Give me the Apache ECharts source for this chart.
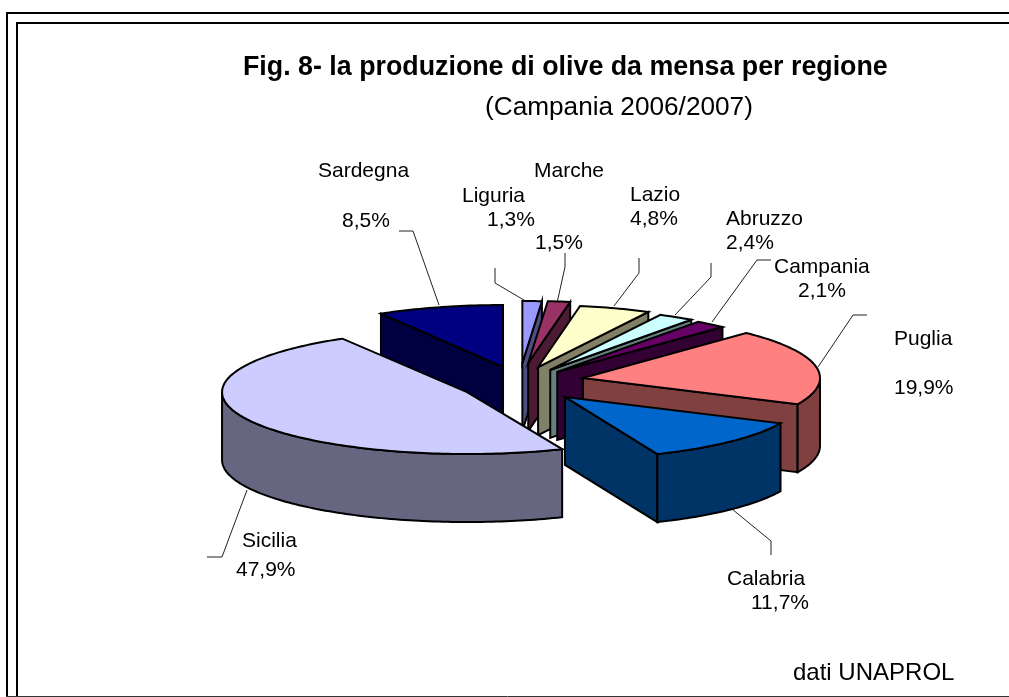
<!DOCTYPE html>
<html><head><meta charset="utf-8">
<style>html,body{margin:0;padding:0;background:#fff}#c{width:1009px;height:697px}</style>
<script src="https://cdn.jsdelivr.net/npm/echarts@6/dist/echarts.min.js"></script>
</head><body><div id="c"></div>
<script>
// Data (clockwise from 12 o'clock)
const regions = ['Liguria','Marche','Lazio','Abruzzo','Campania','Puglia','Calabria','Sicilia','Sardegna'];
const shares  = [1.3,1.5,4.8,2.4,2.1,19.9,11.7,47.9,8.5];
// Styling
const topColors  = ['#9999FF','#993366','#FFFFCC','#CCFFFF','#660066','#FF8080','#0066CC','#CCCCFF','#000080'];
const sideColors = ['#4D4D80','#4D1A33','#808066','#668080','#330033','#804040','#003366','#666680','#000040'];
// Explosion of each slice, horizontally and vertically (px along slice direction)
const explodeX = [70,68,58,58.6,59,64.6,65.6,58.7,62.5];
const explodeY = [21,21.2,17.9,16.5,15.6,32.6,18,17.9,17.6];
const radiusX  = [240,240,240,240,240,237,238,245,240];
// Label anchor positions: [name x, name y, pct x, pct y]
const labelPos = [
 [462,196,487,220],[534,171,535,243],[630,195,630,219],[726,219,726,243],[774,267,798,291],
 [894,339,894,388],[727,579,751,603],[242,541,236,570],[318,171,342,221]];
const leaders = [
 [[495,268],[495,283],[529,303]],
 [[565,253],[565,267],[557,303]],
 [[639,258],[639,273],[614,306]],
 [[711,263],[711,277],[675,315]],
 [[771,260],[757,260],[712,322]],
 [[867,315],[853,315],[818,367]],
 [[732,509],[771,541],[771,555]],
 [[247,490],[222,557],[207,557]],
 [[399,231],[413,231],[439,305]]];

const CX=519.5, CY=384, RY=62, H=68;
const total = shares.reduce((a,b)=>a+b,0);
let acc=0;
const spans = shares.map(v=>{const a=acc/total*Math.PI*2; acc+=v; return [a,acc/total*Math.PI*2];});

function renderItem(params, api){
  const i = api.value(1);
  const [a1,a2] = spans[i];
  const mid=(a1+a2)/2;
  const ox = CX+Math.sin(mid)*explodeX[i], oy = CY-Math.cos(mid)*explodeY[i];
  const pt=(a,dy)=>[ox+Math.sin(a)*radiusX[i], oy-Math.cos(a)*RY+(dy||0)];
  const z = i===8?1:i+2;
  const arc=(s,e,dy)=>{const n=Math.max(2,Math.ceil((e-s)/0.02));const o=[];for(let k=0;k<=n;k++)o.push(pt(s+(e-s)*k/n,dy));return o;};
  const style=(fill)=>({fill,stroke:'#000',lineWidth:2,lineJoin:'miter'});
  const ch=[];
  const add=(points,fill,zz)=>ch.push({type:'polygon',shape:{points},style:style(fill),z2:z*10+zz});
  // radial faces
  if(Math.sin(a2)>0.001) add([[ox,oy],pt(a2),pt(a2,H),[ox,oy+H]],sideColors[i],0);
  if(Math.sin(a1)<-0.001) add([[ox,oy],pt(a1),pt(a1,H),[ox,oy+H]],sideColors[i],0);
  // outer wall (front half only)
  const s=Math.max(a1,Math.PI/2), e=Math.min(a2,Math.PI*1.5);
  if(e>s){ add(arc(s,e,0).concat(arc(s,e,H).reverse()),sideColors[i],1); }
  // top
  add([[ox,oy]].concat(arc(a1,a2,0)),topColors[i],2);
  return {type:'group',children:ch};
}

const textStyle={fontFamily:'"Liberation Sans",Arial,sans-serif',fontSize:21,fill:'#000',textVerticalAlign:'middle',textAlign:'left'};
const graphics=[];
const line=(pts,color,w)=>({type:'polyline',silent:true,z:0,shape:{points:pts},style:{stroke:color,lineWidth:w,fill:null}});
graphics.push(line([[7,696],[7,13],[1009,13]],'#000',2));
graphics.push(line([[17,696],[17,23],[1009,23]],'#000',2));
graphics.push(line([[6,696.5],[1009,696.5]],'#333',1));
leaders.forEach(p=>graphics.push(line(p,'#222',1)));
regions.forEach((r,i)=>{
  const p=labelPos[i];
  graphics.push({type:'text',silent:true,x:p[0],y:p[1],style:Object.assign({},textStyle,{text:r})});
  graphics.push({type:'text',silent:true,x:p[2],y:p[3],style:Object.assign({},textStyle,{text:shares[i].toFixed(1).replace('.',',')+'%'})});
});
graphics.push({type:'text',silent:true,x:793,y:673,style:Object.assign({},textStyle,{text:'dati UNAPROL',fontSize:24})});

const chart=echarts.init(document.getElementById('c'),null,{renderer:'canvas'});
chart.setOption({
  animation:false,
  backgroundColor:'#fff',
  title:[
   {text:'Fig. 8- la produzione di olive da mensa per regione',left:238,top:49,textStyle:{fontFamily:'"Liberation Sans",Arial,sans-serif',fontWeight:'bold',fontSize:26.8,color:'#000'}},
   {text:'(Campania 2006/2007)',left:480,top:90,textStyle:{fontFamily:'"Liberation Sans",Arial,sans-serif',fontWeight:'normal',fontSize:26.2,color:'#000'}}
  ],
  graphic:graphics,
  series:[{type:'custom',coordinateSystem:'none',renderItem,silent:true,
    data:regions.map((r,i)=>({name:r,value:[shares[i],i]}))}]
});
</script></body></html>
